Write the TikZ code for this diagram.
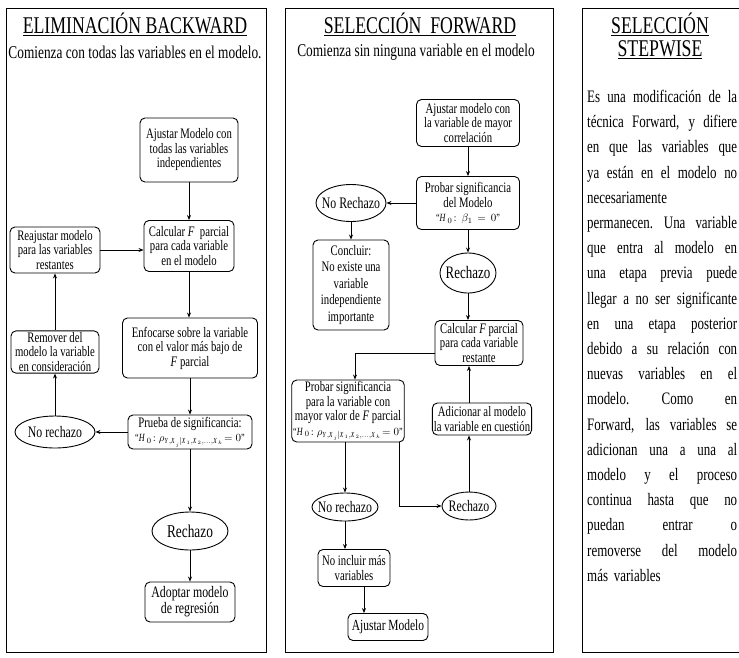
\documentclass[tikz,border=0pt]{standalone}
\usepackage{fontspec}
\setmainfont{Liberation Serif}[FakeStretch=0.74]
\usetikzlibrary{arrows.meta,shapes.geometric}
\newcommand\fbx{\fontsize{14.5}{14.5}\selectfont}
\newcommand\fov{\fontsize{16}{17}\selectfont}
\newcommand\fttl{\fontsize{24}{23.5}\selectfont}
\newcommand\fsub{\fontsize{18}{20}\selectfont}
\newcommand\ffml{\fontsize{11}{12}\selectfont}
\newcommand\jl[1]{\makebox[150pt][s]{\spaceskip=0.25em plus 1fil\relax\xspaceskip=0.3em plus 1fil\relax #1}}
\newcommand\rhoform{{\ffml``$\mathit{H}_0\!:\rho_{\mathit{Y,X}_j|\mathit{X}_1,\mathit{X}_2,\ldots,\mathit{X}_k}\!=0$''}}
\tikzset{
  panel/.style={draw, line width=0.9pt},
  box/.style={draw, rounded corners=5pt, align=center, inner sep=1.5pt, font=\fbx, line width=0.9pt},
  oval/.style={draw, ellipse, align=center, inner xsep=-8pt, inner ysep=-4pt, font=\fov, line width=0.9pt},
  arr/.style={-{Stealth[length=5pt,width=4pt]}, line width=0.8pt},
}
\begin{document}
\begin{tikzpicture}[x=1pt,y=-1pt]
\fill[white] (0,0) rectangle (739,657);
\useasboundingbox (0,0) rectangle (739,657);
% panels
\draw[panel] (6,8) rectangle (266,652);
\draw[panel] (285,8) rectangle (553,652);
\draw[panel] (745,8) -- (582,8) -- (582,652) -- (745,652);
\coordinate (x355) at (355,0);
\coordinate (x364) at (364,0);
\coordinate (x400) at (399,0);
% titles
\node[font=\fttl] (t1) at (135,24) {\underline{ELIMINACIÓN BACKWARD}};
\node[font=\fttl] (t2) at (420,24) {\underline{SELECCIÓN\ \ FORWARD}};
\node[font=\fttl, align=center] (t3) at (660,36) {\underline{SELECCIÓN}\\\underline{STEPWISE}};
\node[font=\fsub] (s1) at (135,52) {Comienza con todas las variables en el modelo.};
\node[font=\fsub] (s2) at (416,52) {Comienza sin ninguna variable en el modelo};
% right text
\node[anchor=north west, inner sep=0pt, text width=150pt, align=left, font=\fontsize{17.5}{25.2}\selectfont] (body) at (587,90) {%
\jl{Es una modificación de la}\\
\jl{técnica Forward, y difiere}\\
\jl{en que las variables que}\\
\jl{ya están en el modelo no}\\
necesariamente\\
\jl{permanecen. Una variable}\\
\jl{que entra al modelo en}\\
\jl{una etapa previa puede}\\
\jl{llegar a no ser significante}\\
\jl{en una etapa posterior}\\
\jl{debido a su relación con}\\
\jl{nuevas variables en el}\\
\jl{modelo. Como en}\\
\jl{Forward, las variables se}\\
\jl{adicionan una a una al}\\
\jl{modelo y el proceso}\\
\jl{continua hasta que no}\\
\jl{puedan entrar o}\\
\jl{removerse del modelo}\\
más variables};
% left flowchart
\node[box, minimum width=98pt, minimum height=64pt] (L1) at (189,150) {Ajustar Modelo con\\todas las variables\\independientes};
\node[box, minimum width=90pt, minimum height=51pt] (L2) at (189,246) {Calcular \textit{F}\ \ parcial\\para cada variable\\en el modelo};
\node[box, minimum width=90pt, minimum height=46pt] (L3) at (55,250) {Reajustar modelo\\para las variables\\restantes};
\node[box, minimum width=88pt, minimum height=40pt] (L4) at (55,352) {Remover del\\modelo la variable\\en consideración};
\node[box, minimum width=135pt, minimum height=60pt] (L5) at (190,348) {Enfocarse sobre la variable\\con el valor más bajo de\\\textit{F} parcial};
\node[box, minimum width=124pt, minimum height=34pt] (L6) at (190,432) {Prueba de significancia:\\\rhoform};
\node[oval, minimum width=80pt, minimum height=32pt] (L7) at (55,432) {No rechazo};
\node[oval, minimum width=76pt, minimum height=38pt, font=\fontsize{18}{19}\selectfont] (L8) at (190,531) {Rechazo};
\node[box, minimum width=90pt, minimum height=40pt, font=\fontsize{16}{16}\selectfont] (L9) at (190,602) {Adoptar modelo\\de regresión};
\draw[arr] (L1.south) -- (L1.south |- L2.north);
\draw[arr] (L2.south) -- (L2.south |- L5.north);
\draw[arr] (L3.east) -- (L3.east -| L2.west);
\draw[arr] (L4) -- (L3);
\draw[arr] (L7) -- (L4);
\draw[arr] (L5) -- (L6);
\draw[arr] (L6) -- (L7);
\draw[arr] (L6) -- (L8);
\draw[arr] (L8) -- (L9);
% middle flowchart
\node[box, minimum width=103pt, minimum height=47pt] (M1) at (468,123) {Ajustar modelo con\\la variable de mayor\\correlación};
\node[box, minimum width=103pt, minimum height=53pt] (M2) at (468,203) {Probar significancia\\del Modelo\\{\ffml``$\mathit{H}_0\!:\ \beta_1\,=\,0$''}};
\node[oval, minimum width=70pt, minimum height=37pt] (M3) at (351,203) {No Rechazo};
\node[box, minimum width=76pt, minimum height=90pt, font=\fontsize{14.5}{16.5}\selectfont] (M4) at (351,285) {Concluir:\\No existe una\\variable\\independiente\\importante};
\node[oval, minimum width=56pt, minimum height=40pt, font=\fontsize{17.5}{18}\selectfont] (M5) at (468,273) {Rechazo};
\node[box, minimum width=88pt, minimum height=45pt] (M6) at (479,343) {Calcular \textit{F} parcial\\para cada variable\\restante};
\node[box, minimum width=110pt, minimum height=54pt] (M7) at (348,411) {Probar significancia\\para la variable con\\mayor valor de \textit{F} parcial\\\rhoform};
\node[box, minimum width=94pt, minimum height=32pt] (M8) at (482,419) {Adicionar al modelo\\la variable en cuestión};
\node[oval, minimum width=54pt, minimum height=28pt] (M9) at (469,506) {Rechazo};
\node[oval, minimum width=66pt, minimum height=28pt] (M10) at (345,507) {No rechazo};
\node[box, minimum width=72pt, minimum height=37pt] (M11) at (354,568) {No incluir más\\variables};
\node[box, minimum width=80pt, minimum height=27pt, font=\fontsize{15.5}{16}\selectfont] (M12) at (388,627) {Ajustar Modelo};
\draw[arr] (M1) -- (M2);
\draw[arr] (M2) -- (M3);
\draw[arr] (M3) -- (M4);
\draw[arr] (M2) -- (M5);
\draw[arr] (M5.south) -- (M5.south |- M6.north);
\draw[arr] ([yshift=-10pt]M6.west) -| (M7.north -| x355);
\draw[arr] (M9.north) -- (M9.north |- M8.south);
\draw[arr] (M9.north |- M8.north) -- (M9.north |- M6.south);
\draw[arr] (M7.south -| x400) |- (M9.west);
\draw[arr] (M7.south -| M10.north) -- (M10.north);
\draw[arr] (M10.south) -- (M10.south |- M11.north);
\draw[arr] (M11.south -| x364) -- (M12.north -| x364);
\end{tikzpicture}
\end{document}
